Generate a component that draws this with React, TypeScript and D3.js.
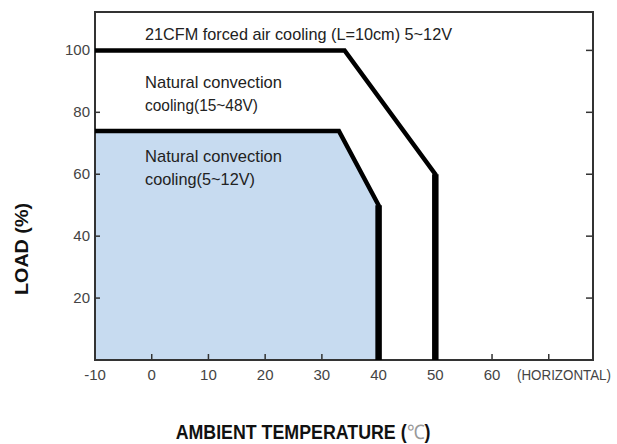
import { useEffect, useRef } from "react";
import * as d3 from "d3";

// derating curves (ambient temp in C, load in %)
const forcedTemp = [-10, 34, 50, 50];
const forcedLoad = [100, 100, 60, 0];
const naturalTemp = [-10, 33, 40, 40];
const naturalLoad = [74, 74, 50, 0];

const xTicks = [0, 10, 20, 30, 40, 50, 60, 70];
const xTickValues = [-10, 0, 10, 20, 30, 40, 50, 60];
const xTickLabels = ["-10", "0", "10", "20", "30", "40", "50", "60"];
const yTicks = [20, 40, 60, 80, 100];
const yTickLabels = ["20", "40", "60", "80", "100"];

const NARROW = '"Liberation Sans Narrow", "Arial Narrow", "Liberation Sans", Arial, sans-serif';
const BOLD = '"Liberation Sans", Arial, sans-serif';

export default function App() {
  const svgRef = useRef<SVGSVGElement>(null);

  useEffect(() => {
    const width = 617;
    const height = 444;
    const margin = { top: 12, right: 24, bottom: 84, left: 95 };

    const svg = d3.select(svgRef.current).attr("width", width).attr("height", height);
    svg.selectAll("*").remove();

    const x = d3.scaleLinear().domain([-10, 77.8]).range([margin.left, width - margin.right]);
    const y = d3.scaleLinear().domain([0, 112.4]).range([height - margin.bottom, margin.top]);

    const forced = forcedTemp.map((t, i) => [t, forcedLoad[i]] as [number, number]);
    const natural = naturalTemp.map((t, i) => [t, naturalLoad[i]] as [number, number]);

    const line = d3
      .line<[number, number]>()
      .x((d) => x(d[0]))
      .y((d) => y(d[1]));

    const area = d3
      .area<[number, number]>()
      .x((d) => x(d[0]))
      .y0(y(0))
      .y1((d) => y(d[1]));

    // shaded region under the natural convection curve
    svg.append("path").datum(natural).attr("d", area).attr("fill", "#c7dbf0");

    // frame
    svg
      .append("rect")
      .attr("x", x(-10))
      .attr("y", y(112.4))
      .attr("width", x(77.8) - x(-10))
      .attr("height", y(0) - y(112.4))
      .attr("fill", "none")
      .attr("stroke", "#333")
      .attr("stroke-width", 2);

    // inward ticks
    svg
      .selectAll("line.xt")
      .data(xTicks)
      .enter()
      .append("line")
      .attr("x1", (d) => x(d))
      .attr("x2", (d) => x(d))
      .attr("y1", y(0))
      .attr("y2", y(0) - 6)
      .attr("stroke", "#333")
      .attr("stroke-width", 1.5);

    [x(-10), x(77.8)].forEach((edge, k) => {
      svg
        .selectAll(null)
        .data(yTicks)
        .enter()
        .append("line")
        .attr("x1", edge)
        .attr("x2", k === 0 ? edge + 5 : edge - 7)
        .attr("y1", (d) => y(d))
        .attr("y2", (d) => y(d))
        .attr("stroke", "#333")
        .attr("stroke-width", 1.5);
    });

    // curves
    [forced, natural].forEach((pts) => {
      svg
        .append("path")
        .datum(pts)
        .attr("d", line)
        .attr("fill", "none")
        .attr("stroke", "#000")
        .attr("stroke-width", 4.5)
        .attr("stroke-linejoin", "miter");
      svg
        .append("line")
        .attr("x1", x(pts[2][0]))
        .attr("x2", x(pts[3][0]))
        .attr("y1", y(pts[2][1]))
        .attr("y2", y(pts[3][1]))
        .attr("stroke", "#000")
        .attr("stroke-width", 6.5);
    });

    // tick labels
    svg
      .selectAll("text.xl")
      .data(xTickValues)
      .enter()
      .append("text")
      .attr("x", (d) => x(d))
      .attr("y", 380)
      .attr("text-anchor", "middle")
      .attr("font-family", NARROW)
      .attr("font-size", 15)
      .attr("fill", "#444")
      .text((d, i) => xTickLabels[i]);

    svg
      .append("text")
      .attr("x", 517)
      .attr("y", 380)
      .attr("font-family", NARROW)
      .attr("font-size", 14)
      .attr("fill", "#444")
      .attr("textLength", 94)
      .attr("lengthAdjust", "spacingAndGlyphs")
      .text("(HORIZONTAL)");

    svg
      .selectAll("text.yl")
      .data(yTicks)
      .enter()
      .append("text")
      .attr("x", x(-10) - 5)
      .attr("y", (d) => y(d) + 5)
      .attr("text-anchor", "end")
      .attr("font-family", NARROW)
      .attr("font-size", 15)
      .attr("fill", "#444")
      .text((d, i) => yTickLabels[i]);

    // region labels
    const labels: [string, number, number, number][] = [
      ["21CFM forced air cooling (L=10cm) 5~12V", 145, 40, 307],
      ["Natural convection", 145, 88, 137],
      ["cooling(15~48V)", 145, 111, 113],
      ["Natural convection", 145, 162, 137],
      ["cooling(5~12V)", 145, 185, 110],
    ];
    labels.forEach(([t, lx, ly, len]) => {
      svg
        .append("text")
        .attr("x", lx)
        .attr("y", ly)
        .attr("font-family", NARROW)
        .attr("font-size", 17)
        .attr("fill", "#222")
        .attr("textLength", len)
        .attr("lengthAdjust", "spacingAndGlyphs")
        .text(t);
    });

    // axis titles
    const xt = svg
      .append("text")
      .attr("transform", "translate(303, 439) scale(0.89, 1)")
      .attr("text-anchor", "middle")
      .attr("font-family", BOLD)
      .attr("font-size", 20)
      .attr("font-weight", "bold")
      .attr("fill", "#111");
    xt.append("tspan").text("AMBIENT TEMPERATURE (");
    xt.append("tspan").attr("font-weight", "normal").attr("fill", "#999").text("℃");
    xt.append("tspan").text(")");

    svg
      .append("text")
      .attr("transform", "translate(28, 249) rotate(-90)")
      .attr("text-anchor", "middle")
      .attr("font-family", BOLD)
      .attr("font-size", 19)
      .attr("font-weight", "bold")
      .attr("fill", "#111")
      .attr("textLength", 92)
      .attr("lengthAdjust", "spacingAndGlyphs")
      .text("LOAD (%)");
  }, []);

  return <svg ref={svgRef} style={{ position: "absolute", left: 0, top: 0 }}></svg>;
}
